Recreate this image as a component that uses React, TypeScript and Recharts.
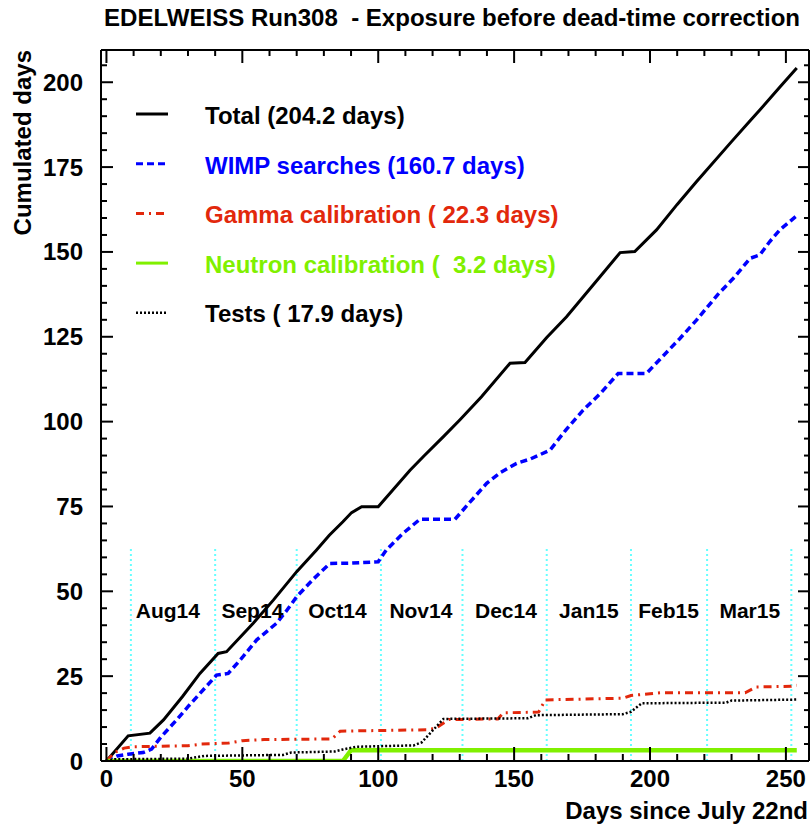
import React from "react";
import { LineChart, Line, XAxis, YAxis, ReferenceLine, ReferenceDot, Legend } from "recharts";

const FONT = "'Liberation Sans', Arial, Helvetica, sans-serif";

// [day since July 22nd, cumulated days]
const totalPts = [
  [0, 0], [8, 7.4], [16, 8.2], [21, 12.1], [28, 19], [34.4, 25.8], [41.1, 31.7], [44.2, 32.2],
  [54, 40.6], [61.4, 47.4], [70, 55.8], [77.3, 62.2], [82, 66.5], [87, 70.5], [90.2, 73.2],
  [93.9, 74.9], [100, 74.9], [111.7, 85.7], [117, 90], [123.9, 95.5], [130, 100.5], [138, 107.3],
  [148.5, 117.2], [154, 117.4], [162, 124.8], [169.3, 130.9], [181.6, 142.7], [189, 149.8],
  [194.4, 150.1], [202.4, 156.5], [210, 164], [217, 170.6], [230, 182.5], [237, 188.8],
  [240.4, 191.8], [247.8, 198.6], [254, 204.2],
];

const wimpPts = [
  [0, 0], [4, 1.5], [8, 2], [13.5, 2.5], [16.6, 3.5], [20, 7], [25.8, 12.1], [30, 16], [34.4, 19.9],
  [40.5, 25.3], [44.8, 25.8], [50, 30.5], [55.3, 35.7], [62.6, 40.6], [66, 44], [70, 48.4],
  [76, 53.5], [82.2, 58.2], [90, 58.3], [100, 58.7], [103, 62.2], [109, 67], [115.3, 71.2],
  [128.2, 71.2], [134, 76.5], [139.9, 81.8], [145, 85], [150.9, 87.7], [156, 89], [163.2, 91.6],
  [169, 97.5], [175.4, 103.4], [182, 108.5], [188.3, 114.2], [198.7, 114.2], [205, 119.5],
  [211, 124.5], [217.1, 129.9], [225, 137.5], [231, 142.5], [236.8, 148.1], [240.4, 149.1],
  [244, 153], [247.8, 156.5], [254, 160.7],
];

const gammaPts = [
  [0, 0], [3, 2.5], [6.5, 3.8], [10, 4.2], [30, 4.5], [35, 5], [45, 5.3], [50, 6], [58, 6.3],
  [83, 6.5], [86, 8.8], [118, 9.2], [121, 9.6], [126, 12.2], [144, 12.4], [146, 14.2], [159, 14.4],
  [161.5, 18], [190, 18.5], [193, 19.3], [200, 19.8], [204, 20.1], [235, 20.1], [239, 21.8],
  [252, 22], [254, 22.3],
];

const neutronPts = [[0, 0], [87, 0], [90, 3.2], [254, 3.2]];

const testsPts = [
  [0, 0], [3, 0.5], [30, 0.7], [36, 1.5], [65, 1.8], [68, 2.5], [84, 2.8], [87, 3.4], [92, 4.2],
  [113, 4.6], [116, 5.5], [124, 12.4], [155, 12.6], [158, 13.5], [190, 13.8], [193, 14.5],
  [197, 17], [228, 17.2], [230, 17.8], [254, 18.1],
];

const monthStarts = [9, 40, 70, 101, 131, 162, 193, 221, 252];
const monthNames = ["Aug14", "Sep14", "Oct14", "Nov14", "Dec14", "Jan15", "Feb15", "Mar15"];
const monthLabelX = [22.6, 53.7, 85, 115.7, 147, 177.5, 206.8, 236.7];

const xTicks = [0, 10, 20, 30, 40, 50, 60, 70, 80, 90, 100, 110, 120, 130, 140, 150, 160, 170, 180, 190, 200, 210, 220, 230, 240, 250];
const yTicks = [0, 5, 10, 15, 20, 25, 30, 35, 40, 45, 50, 55, 60, 65, 70, 75, 80, 85, 90, 95, 100, 105, 110, 115, 120, 125, 130, 135, 140, 145, 150, 155, 160, 165, 170, 175, 180, 185, 190, 195, 200, 205];

const toRows = (pts: number[][]) => pts.map(([x, y]) => ({ x, y }));

const series = [
  { key: "total", label: "Total (204.2 days)", data: toRows(totalPts), color: "#000000", text: "#000000", width: 3, legendWidth: 3, dash: undefined },
  { key: "wimp", label: "WIMP searches (160.7 days)", data: toRows(wimpPts), color: "#0000ff", text: "#0000ff", width: 3.5, legendWidth: 3, dash: "7 4" },
  { key: "gamma", label: "Gamma calibration ( 22.3 days)", data: toRows(gammaPts), color: "#e2280c", text: "#e2280c", width: 3, legendWidth: 3, dash: "8 5 2 5" },
  { key: "neutron", label: "Neutron calibration (  3.2 days)", data: toRows(neutronPts), color: "#80f000", text: "#80f000", width: 4.5, legendWidth: 3, dash: undefined },
  { key: "tests", label: "Tests ( 17.9 days)", data: toRows(testsPts), color: "#000000", text: "#000000", width: 2.5, legendWidth: 2.5, dash: "2 2" },
];

function BottomTick(props: any) {
  const { x, y, payload } = props;
  const major = payload.value % 50 === 0;
  return (
    <g>
      <line x1={x} x2={x} y1={y} y2={y - (major ? 14 : 7)} stroke="#000" strokeWidth={2} />
      {major && (
        <text x={x} y={y + 26} textAnchor="middle" fontSize={24} fontWeight="bold" fontFamily={FONT} fill="#000">
          {payload.value}
        </text>
      )}
    </g>
  );
}

function TopTick(props: any) {
  const { x, y, payload } = props;
  const major = payload.value % 50 === 0;
  return <line x1={x} x2={x} y1={y} y2={y + (major ? 13 : 6)} stroke="#000" strokeWidth={2} />;
}

function LeftTick(props: any) {
  const { x, y, payload } = props;
  const major = payload.value % 25 === 0;
  return (
    <g>
      <line x1={x} x2={x + (major ? 12 : 6)} y1={y} y2={y} stroke="#000" strokeWidth={2} />
      {major && (
        <text x={83} y={y + 8.5} textAnchor="end" fontSize={24} fontWeight="bold" fontFamily={FONT} fill="#000">
          {payload.value}
        </text>
      )}
    </g>
  );
}

function RightTick(props: any) {
  const { x, y, payload } = props;
  const major = payload.value % 25 === 0;
  return <line x1={x} x2={x - (major ? 11 : 5)} y1={y} y2={y} stroke="#000" strokeWidth={2} />;
}

function LegendBox() {
  return (
    <svg width={470} height={240}>
      {series.map((s, i) => (
        <g key={s.key}>
          <line x1={6} x2={38} y1={19 + i * 49.7} y2={19 + i * 49.7} stroke={s.color} strokeWidth={s.legendWidth} strokeDasharray={s.dash} />
          <text x={75} y={29 + i * 49.5} fill={s.text} fontSize={24} fontWeight="bold" fontFamily={FONT} style={{ whiteSpace: "pre" }}>
            {s.label}
          </text>
        </g>
      ))}
    </svg>
  );
}

export default function App() {
  return (
    <div style={{ position: "relative", width: 812, height: 830, background: "#fff" }}>
      <style>{"body{margin:0}"}</style>
      <LineChart width={812} height={830} margin={{ top: 0, right: 0, bottom: 0, left: 0 }}>
        <XAxis
          xAxisId={0}
          dataKey="x"
          type="number"
          domain={[-2, 258.5]}
          allowDataOverflow
          ticks={xTicks}
          interval={0}
          height={69}
          tickSize={0}
          tickMargin={0}
          tickLine={false}
          tick={BottomTick}
          axisLine={{ stroke: "#000", strokeWidth: 2 }}
        />
        <XAxis
          xAxisId="top"
          orientation="top"
          dataKey="x"
          type="number"
          domain={[-2, 258.5]}
          allowDataOverflow
          ticks={xTicks}
          interval={0}
          height={50}
          tickSize={0}
          tickMargin={0}
          tickLine={false}
          tick={TopTick}
          axisLine={{ stroke: "#000", strokeWidth: 2 }}
        />
        <YAxis
          yAxisId={0}
          type="number"
          domain={[0, 209.5]}
          allowDataOverflow
          ticks={yTicks}
          interval={0}
          width={101}
          tickSize={0}
          tickMargin={0}
          tickLine={false}
          tick={LeftTick}
          axisLine={{ stroke: "#000", strokeWidth: 2 }}
        />
        <YAxis
          yAxisId="right"
          orientation="right"
          type="number"
          domain={[0, 209.5]}
          allowDataOverflow
          ticks={yTicks}
          interval={0}
          width={3}
          tickSize={0}
          tickMargin={0}
          tickLine={false}
          tick={RightTick}
          axisLine={{ stroke: "#000", strokeWidth: 2 }}
        />
        {monthStarts.map((d) => (
          <ReferenceLine
            key={"m" + d}
            segment={[{ x: d, y: 0 }, { x: d, y: 63 }]}
            stroke="#66ffff"
            strokeWidth={2}
            strokeDasharray="2 3"
          />
        ))}
        {monthNames.map((name, i) => (
          <ReferenceDot
            key={name}
            x={monthLabelX[i]}
            y={44.2}
            r={0}
            fill="none"
            stroke="none"
            label={{ value: name, position: "center", fontSize: 21, fontWeight: "bold", fill: "#000", fontFamily: FONT }}
          />
        ))}
        {series.map((s) => (
          <Line
            key={s.key}
            data={s.data}
            dataKey="y"
            name={s.label}
            type="linear"
            stroke={s.color}
            strokeWidth={s.width}
            strokeDasharray={s.dash}
            dot={false}
            activeDot={false}
            isAnimationActive={false}
          />
        ))}
        <Legend
          layout="horizontal"
          verticalAlign="middle"
          align="center"
          content={LegendBox}
          wrapperStyle={{ left: 130, top: 95, width: 470, height: 240 }}
        />
      </LineChart>
      <svg width={812} height={830} style={{ position: "absolute", left: 0, top: 0, pointerEvents: "none" }}>
        <text x={104} y={26} fontSize={24} fontWeight="bold" fontFamily={FONT} fill="#000" textLength={696} lengthAdjust="spacingAndGlyphs" style={{ whiteSpace: "pre" }}>
          EDELWEISS Run308  - Exposure before dead-time correction
        </text>
        <text x={808} y={819} textAnchor="end" fontSize={24} fontWeight="bold" fontFamily={FONT} fill="#000">
          Days since July 22nd
        </text>
        <text transform="translate(31,50) rotate(-90)" textAnchor="end" fontSize={24} fontWeight="bold" fontFamily={FONT} fill="#000">
          Cumulated days
        </text>
      </svg>
    </div>
  );
}
